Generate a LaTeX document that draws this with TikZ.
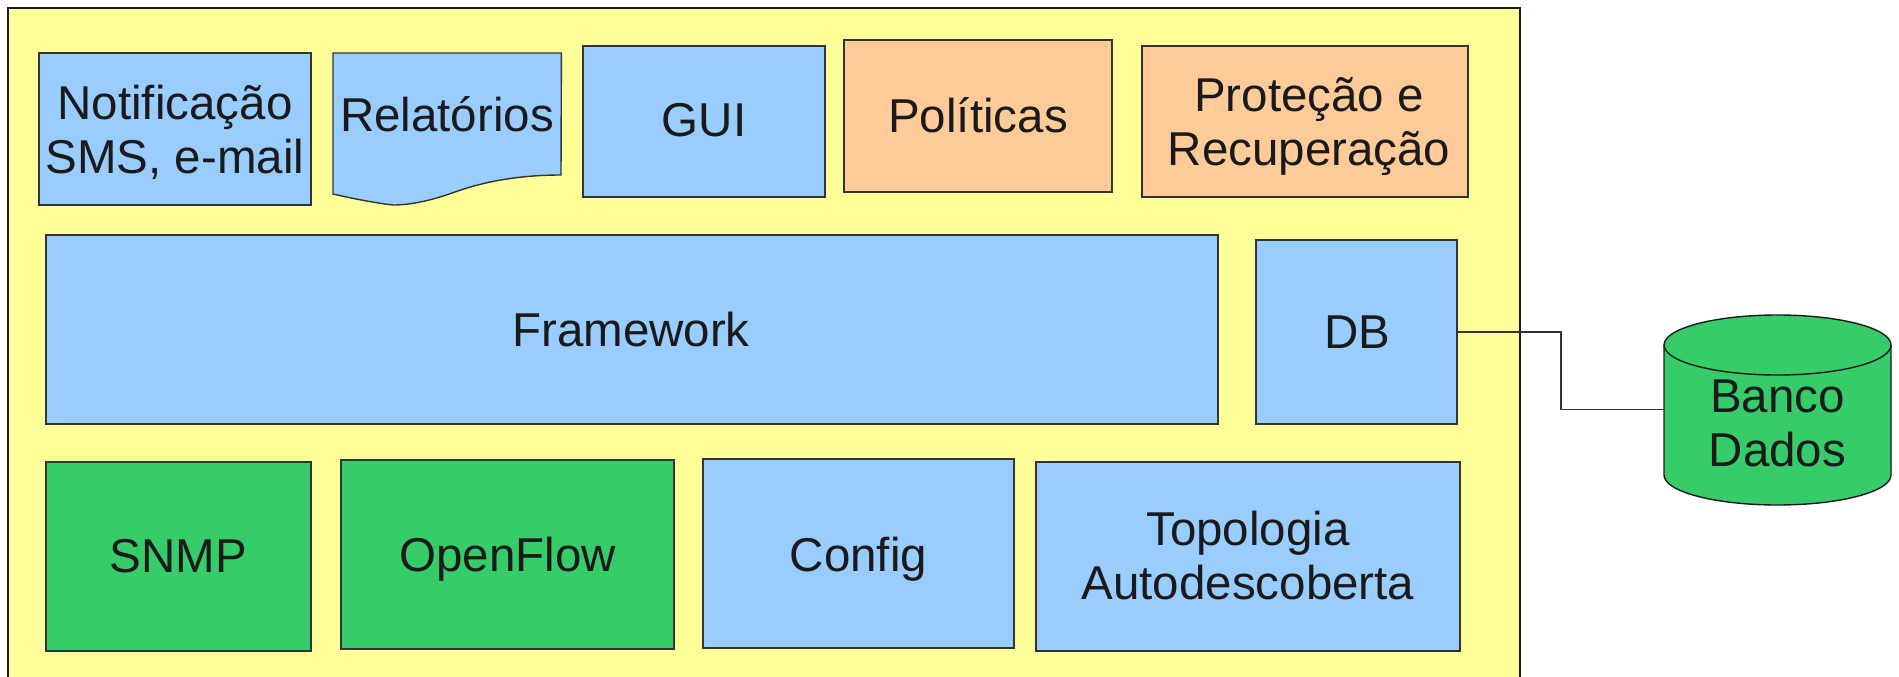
\documentclass[tikz,border=0pt]{standalone}
\usepackage{fontspec}
\setmainfont{Liberation Sans}
\definecolor{panelc}{HTML}{FFFF99}
\definecolor{bluec}{HTML}{99CCFF}
\definecolor{orangec}{HTML}{FFCC99}
\definecolor{greenc}{HTML}{35CC69}
\definecolor{textc}{HTML}{1A1A1A}
\definecolor{edgec}{HTML}{333333}
% fixed strut: 40pt above, 12pt below each baseline
\newcommand\lnstrut{\rule[-12pt]{0pt}{40pt}}
\begin{document}
\begin{tikzpicture}[x=1pt,y=-1pt,
  box/.style={draw=edgec, line width=1.4pt, inner sep=0pt, outer sep=0pt, anchor=north west},
  txt/.style={font=\fontsize{47.5}{54}\selectfont, text=textc, align=center, inner sep=0pt},
  wire/.style={draw=edgec, line width=1.4pt}]
\clip (0,0) rectangle (1899,677);

% outer panel (runs past the lower edge)
\node[box, draw=textc, line width=1.6pt, fill=panelc, minimum width=1512pt, minimum height=720pt] (panel) at (8,8) {};

% top row
\node[box, fill=bluec, minimum width=272pt, minimum height=152pt] (notif) at (39,53) {};
\node[txt] (notif-t) at (175,135) {\lnstrut Notificação\\\lnstrut SMS, e-mail};

\node[inner sep=0pt, minimum width=228pt, minimum height=152pt, anchor=north west] (rel) at (333,53) {};
\filldraw[fill=bluec, draw=edgec, line width=1.4pt]
  (rel.north west) -- (rel.north east) -- (561,175)
  .. controls (515,175) and (480,183) .. (455,192)
  .. controls (430,201) and (410,205) .. (393,205)
  .. controls (375,203) and (350,198) .. (333,194) -- cycle;
\node[txt] (rel-t) at (447,120.5) {\lnstrut Relatórios};

\node[box, fill=bluec, minimum width=242pt, minimum height=151pt] (gui) at (583,46) {};
\node[txt] (gui-t) at (704,125.5) {\lnstrut GUI};

\node[box, fill=orangec, minimum width=268pt, minimum height=152pt] (pol) at (844,40) {};
\node[txt] (pol-t) at (978,121.5) {\lnstrut Políticas};

\node[box, fill=orangec, minimum width=326pt, minimum height=151pt] (prot) at (1142,46) {};
\node[txt] (prot-t) at (1309,127.5) {\lnstrut Proteção e\\\lnstrut Recuperação};

% middle row
\node[box, fill=bluec, minimum width=1172pt, minimum height=189pt] (fw) at (46,235) {};
\node[txt] (fw-t) at (631,335.5) {\lnstrut Framework};

\node[box, fill=bluec, minimum width=201pt, minimum height=184pt] (db) at (1256,240) {};
\node[txt] (db-t) at (1357,338.5) {\lnstrut DB};

% bottom row
\node[box, fill=greenc, minimum width=265pt, minimum height=189pt] (snmp) at (46,462) {};
\node[txt] (snmp-t) at (178.5,562) {\lnstrut SNMP};

\node[box, fill=greenc, minimum width=333pt, minimum height=189pt] (of) at (341,460) {};
\node[txt] (of-t) at (507.5,560.5) {\lnstrut OpenFlow};

\node[box, fill=bluec, minimum width=311pt, minimum height=189pt] (cfg) at (703,459) {};
\node[txt] (cfg-t) at (858.5,560.5) {\lnstrut Config};

\node[box, fill=bluec, minimum width=424pt, minimum height=189pt] (topo) at (1036,462) {};
\node[txt] (topo-t) at (1248,561.5) {\lnstrut Topologia\\\lnstrut Autodescoberta};

% database cylinder
\node[inner sep=0pt, outer sep=0pt, minimum width=227pt, minimum height=189pt] (bd) at (1777.5,409.5) {};
\filldraw[fill=greenc, draw=textc, line width=1.4pt]
  (1664,345) -- (1664,475)
  .. controls (1664,491.57) and (1714.8,505) .. (1777.5,505)
  .. controls (1840.2,505) and (1891,491.57) .. (1891,475)
  -- (1891,345)
  .. controls (1891,328.43) and (1840.2,315) .. (1777.5,315)
  .. controls (1714.8,315) and (1664,328.43) .. (1664,345) -- cycle;
\draw[draw=textc, line width=1.4pt]
  (1664,345) .. controls (1664,361.57) and (1714.8,375) .. (1777.5,375)
  .. controls (1840.2,375) and (1891,361.57) .. (1891,345);
\node[txt] (bd-t) at (1777.5,429) {\lnstrut Banco\\\lnstrut Dados};

% link DB -> database
\coordinate (bend) at (1561,370);
\draw[wire] (db.east) -| (bend) |- (bd.west);
\end{tikzpicture}
\end{document}
